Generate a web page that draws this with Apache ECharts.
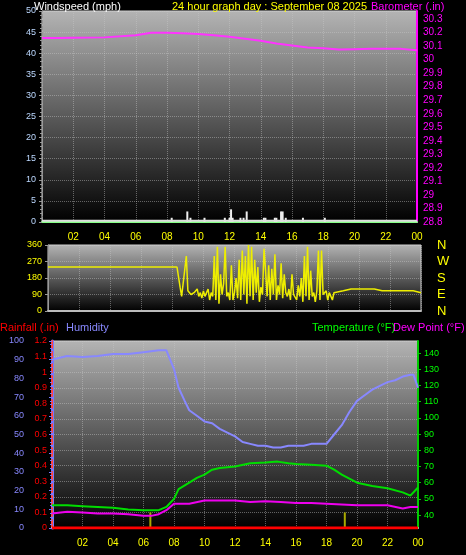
<!DOCTYPE html>
<html><head><meta charset="utf-8">
<script src="https://cdn.jsdelivr.net/npm/echarts@6/dist/echarts.min.js"></script>
<style>html,body{margin:0;background:#000}#c{width:466px;height:555px}</style>
</head><body><div id="c"></div>
<script>
// hours since midnight
const hourTicks = ['02', '04', '06', '08', '10', '12', '14', '16', '18', '20', '22', '00']

const baro = [[0,30.16],[1,30.16],[2,30.163],[4,30.165],[6,30.18],[7,30.2],[8,30.2],[9,30.195],[10,30.19],[11,30.18],[12,30.17],[13,30.155],[14,30.14],[15,30.12],[16,30.105],[17,30.09],[18,30.085],[19,30.075],[20,30.078],[21,30.08],[22,30.08],[23,30.08],[24,30.07]]
const windSpeed = [[8.3,1],[9.3,2.5],[9.5,1],[10.4,1],[11.7,1],[12,1],[12.1,3],[12.2,1],[12.7,1],[12.9,1],[13.1,2.5],[14.2,1],[14.3,1],[14.9,1],[15.0,1],[15.3,2.5],[15.4,2.5],[15.6,1],[16.7,1],[18.1,1]]

const windDir = [[0,240],[8.3,240],[8.5,130],[8.6,80],[8.7,90],[8.9,300],[9.0,110],[9.2,90],[9.4,100],
  [9.5,90],[9.6,120],[9.7,80],[9.8,100],[9.9,70],[10,110],[10.1,80],[10.2,90],[10.3,120],[10.4,60],[10.5,100],[10.6,80],[10.7,300],[10.8,60],[10.9,350],
  [11,40],[11.1,200],[11.2,90],[11.3,150],[11.4,350],[11.5,80],[11.6,100],[11.7,60],[11.8,250],[11.9,60],[12,100],[12.1,180],[12.2,70],[12.3,280],[12.4,60],
  [12.5,330],[12.6,90],[12.7,300],[12.8,40],[12.9,360],[13,80],[13.1,350],[13.2,60],[13.3,280],[13.4,100],[13.5,240],[13.6,50],[13.7,130],[13.8,90],[13.9,340],
  [14,220],[14.1,80],[14.2,250],[14.3,60],[14.4,230],[14.5,90],[14.6,310],[14.7,60],[14.8,140],[14.9,90],[15,260],[15.1,70],[15.2,200],[15.3,100],[15.4,80],
  [15.5,120],[15.6,60],[15.7,200],[15.8,90],[15.9,100],[16,60],[16.1,140],[16.2,80],[16.3,180],[16.4,50],[16.5,300],[16.6,80],[16.7,350],[16.8,60],[16.9,220],
  [17,80],[17.1,100],[17.2,50],[17.3,110],[17.4,330],[17.5,60],[17.6,330],[17.7,90],[17.8,80],[17.9,110],[18,60],[18.1,100],[18.2,90],[18.3,60],[18.4,100],
  [18.5,95],[18.7,105],[19,110],[19.5,120],[21,120],[21.5,110],[23.5,110],[24,100]]

const humidity = [[0,90],[0.5,91],[1,92],[2,91.5],[3,92],[4,93],[5,93],[6,94],[7,95],[7.5,95],[8,85],[8.3,75],[8.7,68],[9,63],[9.5,60],[10,57],[10.5,56],[11,53],[11.5,51],[12,49],[12.5,46],[13,45],[13.5,44],[14,44],[14.5,43],[15,43],[15.5,44],[16,44],[16.5,44],[17,45],[17.5,45],[18,45],[18.5,50],[19,55],[19.5,62],[20,68],[20.5,71],[21,74],[21.5,76],[22,78],[22.5,79],[23,81],[23.5,82],[23.7,82],[24,75]]
const temperature = [[0,46],[1,46],[2,45.5],[3,45],[4,44.5],[5,43.5],[6,43],[7,43],[7.5,45],[8,50],[8.3,56],[9,60],[9.5,63],[10,65],[10.5,68],[11,69],[12,70],[13,72],[14,72.5],[14.8,73],[15.5,72],[16,71.5],[17,71],[18,70.5],[18.5,68],[19,65],[20,60],[21,58],[22,56.5],[23,54],[23.5,52],[24,57]]
const dewPoint = [[0,41],[1,42],[2,41.5],[3,41],[4,41],[5,40.5],[6,39.5],[6.5,39.5],[7,40.5],[7.5,43],[8,47],[9,47],[10,49],[11,49],[12,49],[13,48],[14,48.5],[15,48],[16,47.5],[17,47.5],[18,47],[19,46.5],[20,46],[21,46],[22,46],[23,44],[23.5,45],[24,45]]
const rainfall = [[0,0],[24,0]]
const rainMarks = [[6.45,0.1],[19.2,0.1]]

const chart = echarts.init(document.getElementById('c'))
const font = 'Liberation Sans'
const bg = {type:'linear',x:0,y:0,x2:0,y2:1,colorStops:[{offset:0,color:'#b4b4b4'},{offset:1,color:'#000'}]}
const split = {show:true,lineStyle:{color:'rgba(200,200,200,0.45)',type:'dotted'}}
const tstyle = c => ({color:c,fontSize:11,fontWeight:'normal',fontFamily:font})
function xAx(gi, show) {
  return {type:'value',gridIndex:gi,min:0,max:24,interval:2,
    axisLine:{show:true,lineStyle:{color:gi===0?'#8f8':'#bbb',width:2}},
    axisTick:{show:false},splitLine:split,
    axisLabel:{show:show,color:'#ff0',fontSize:10,fontFamily:font,margin:10,formatter:v=>v===0?'':hourTicks[v/2-1]}}
}
chart.setOption({
  backgroundColor:'#000',
  animation:false,
  title:[
    {text:'Windspeed (mph)',left:29,top:-4,textStyle:tstyle('#fff')},
    {text:'24 hour graph day : September 08 2025',left:167,top:-4,textStyle:tstyle('#ff0')},
    {text:'Barometer (.in)',left:366,top:-4,textStyle:tstyle('#f0f')},
    {text:'Rainfall (.in)',left:-5,top:317,textStyle:tstyle('#f00')},
    {text:'Humidity',left:61,top:317,textStyle:tstyle('#88f')},
    {text:'Temperature (°F)',left:307,top:317,textStyle:tstyle('#0f0')},
    {text:'Dew Point (°F)',left:388,top:317,textStyle:tstyle('#f0f')}
  ],
  grid:[
    {left:42,width:375,top:11,height:211,show:true,backgroundColor:bg,borderColor:'#ccc'},
    {left:48,width:373,top:245,height:66,show:true,backgroundColor:bg,borderColor:'#ccc'},
    {left:52,width:366,top:341,height:187,show:true,backgroundColor:bg,borderColor:'#ccc'}
  ],
  xAxis:[xAx(0,true),xAx(1,false),xAx(2,true)],
  yAxis:[
    {gridIndex:0,min:0,max:50,interval:5,position:'left',
      axisLine:{show:true,lineStyle:{color:'#999',type:'dashed'}},axisTick:{show:true,length:3,lineStyle:{color:'#999'}},
      minorTick:{show:true,splitNumber:5,length:2,lineStyle:{color:'#999'}},
      axisLabel:{color:'#bcd8ff',fontSize:9,fontFamily:font,margin:6},splitLine:split},
    {gridIndex:0,min:28.8,max:30.36,interval:0.1,position:'right',
      axisLine:{show:true,lineStyle:{color:'#f0f',width:2}},axisTick:{show:false},
      axisLabel:{color:'#f0f',fontSize:10,fontFamily:font,margin:6,formatter:v=>+v.toFixed(1)+''},splitLine:{show:false}},
    {gridIndex:1,min:0,max:360,interval:90,position:'left',
      axisLine:{show:true,lineStyle:{color:'#999'}},axisTick:{show:true,length:3},
      axisLabel:{color:'#ff0',fontSize:9,fontFamily:font,margin:6},splitLine:split},
    {gridIndex:1,min:0,max:360,interval:90,position:'right',offset:4,
      axisLine:{show:false},axisTick:{show:false},splitLine:{show:false},
      axisLabel:{color:'#ff0',fontSize:13,fontFamily:font,margin:12,formatter:v=>({0:'N',90:'E',180:'S',270:'W',360:'N'})[v]}},
    {gridIndex:2,min:0,max:100,interval:10,position:'left',offset:22,
      axisLine:{show:true,lineStyle:{color:'#77f',width:3}},axisTick:{show:true,length:3,lineStyle:{color:'#77f'}},
      minorTick:{show:true,splitNumber:5,length:2,lineStyle:{color:'#77f'}},
      axisLabel:{color:'#88f',fontSize:9,fontFamily:font,margin:6},splitLine:{show:false}},
    {gridIndex:2,min:0,max:1.2,interval:0.1,position:'left',
      axisLine:{show:true,lineStyle:{color:'#f44',width:2,type:'dashed'}},axisTick:{show:false},
      axisLabel:{color:'#f00',fontSize:9,fontFamily:font,margin:5,formatter:v=>+v.toFixed(1)+''},splitLine:split},
    {gridIndex:2,min:32,max:147.5,position:'right',
      axisLine:{show:true,lineStyle:{color:'#0c0',width:2}},axisTick:{show:true,length:3,customValues:[40,50,60,70,80,90,100,110,120,130,140]},
      axisLabel:{color:'#0f0',fontSize:9,fontFamily:font,margin:6,customValues:[40,50,60,70,80,90,100,110,120,130,140]},splitLine:{show:false}}
  ],
  series:[
    {type:'bar',xAxisIndex:0,yAxisIndex:0,data:windSpeed,barWidth:2,itemStyle:{color:'#eee'}},
    {type:'line',xAxisIndex:0,yAxisIndex:0,data:[[0,0.3],[24,0.3]],symbol:'none',lineStyle:{color:'#ddd',width:2}},
    {type:'line',xAxisIndex:0,yAxisIndex:1,data:baro,symbol:'none',lineStyle:{color:'#f3f',width:2}},
    {type:'line',xAxisIndex:1,yAxisIndex:2,data:windDir,symbol:'none',lineStyle:{color:'#ee0',width:1.5}},
    {type:'bar',xAxisIndex:2,yAxisIndex:5,data:rainMarks,barWidth:2,itemStyle:{color:'#aa0'}},
    {type:'line',xAxisIndex:2,yAxisIndex:4,data:humidity,symbol:'none',lineStyle:{color:'#88f',width:2}},
    {type:'line',xAxisIndex:2,yAxisIndex:6,data:temperature,symbol:'none',lineStyle:{color:'#0d0',width:2}},
    {type:'line',xAxisIndex:2,yAxisIndex:6,data:dewPoint,symbol:'none',lineStyle:{color:'#e0e',width:2}},
    {type:'line',xAxisIndex:2,yAxisIndex:5,data:rainfall,symbol:'none',lineStyle:{color:'#f00',width:3}}
  ]
})
</script></body></html>
